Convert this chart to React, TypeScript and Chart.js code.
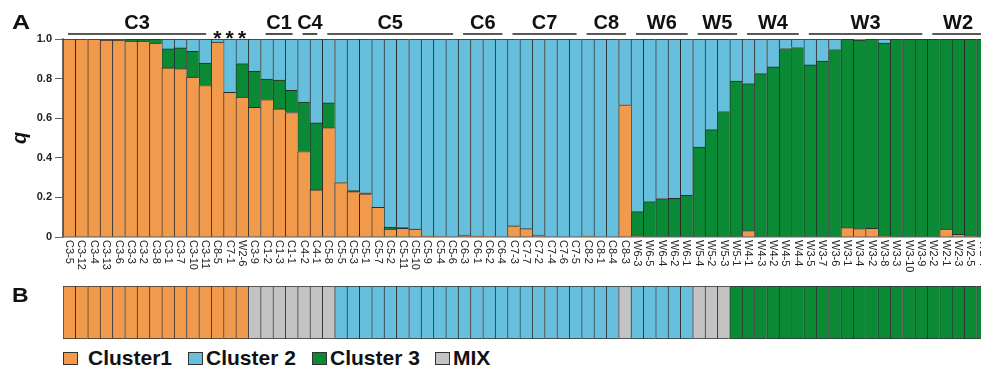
import React, { useEffect, useRef } from 'react';
import { Chart, registerables } from 'chart.js';

Chart.register(...registerables);

const FONT = '"Liberation Sans", Arial, Helvetica, sans-serif';

const sampleLabels = [
  'C3-5', 'C3-12', 'C3-4', 'C3-13', 'C3-6', 'C3-3', 'C3-2', 'C3-8', 'C3-1', 'C3-7',
  'C3-10', 'C3-11', 'C8-5', 'C7-1', 'W2-6', 'C3-9', 'C1-2', 'C1-3', 'C1-1', 'C4-2',
  'C4-1', 'C5-8', 'C5-5', 'C5-3', 'C5-1', 'C5-7', 'C5-2', 'C5-11', 'C5-10', 'C5-9',
  'C5-4', 'C5-6', 'C6-3', 'C6-1', 'C6-2', 'C6-4', 'C7-3', 'C7-7', 'C7-2', 'C7-4',
  'C7-6', 'C7-5', 'C8-2', 'C8-1', 'C8-4', 'C8-3', 'W6-3', 'W6-5', 'W6-4', 'W6-2',
  'W6-1', 'W5-4', 'W5-2', 'W5-3', 'W5-1', 'W4-1', 'W4-3', 'W4-2', 'W4-5', 'W4-4',
  'W3-5', 'W3-7', 'W3-6', 'W3-1', 'W3-4', 'W3-2', 'W3-8', 'W3-3', 'W3-10', 'W3-9',
  'W2-2', 'W2-1', 'W2-3', 'W2-5', 'W2-4',
];

// Cluster 1 (orange) membership q
const cluster1 = [
  1.0, 1.0, 1.0, 0.995, 0.995, 0.99, 0.99, 0.98, 0.854, 0.85,
  0.808, 0.765, 0.985, 0.731, 0.707, 0.655, 0.694, 0.647, 0.629, 0.432,
  0.238, 0.552, 0.275, 0.229, 0.218, 0.15, 0.04, 0.044, 0.04, 0.005,
  0.003, 0.0, 0.01, 0.005, 0.003, 0.0, 0.056, 0.042, 0.01, 0.0,
  0.0, 0.0, 0.005, 0.0, 0.0, 0.668, 0.005, 0.0, 0.0, 0.0,
  0.0, 0.0, 0.0, 0.0, 0.0, 0.032, 0.0, 0.0, 0.0, 0.0,
  0.0, 0.0, 0.0, 0.047, 0.042, 0.044, 0.005, 0.0, 0.0, 0.0,
  0.0, 0.04, 0.014, 0.005, 0.0,
];

// Cluster 3 (green) membership q
const cluster3 = [
  0.0, 0.0, 0.0, 0.005, 0.005, 0.01, 0.01, 0.02, 0.096, 0.105,
  0.13, 0.114, 0.0, 0.0, 0.169, 0.182, 0.104, 0.146, 0.112, 0.25,
  0.338, 0.125, 0.0, 0.005, 0.005, 0.0, 0.01, 0.003, 0.0, 0.0,
  0.0, 0.0, 0.0, 0.0, 0.0, 0.0, 0.0, 0.0, 0.0, 0.0,
  0.0, 0.0, 0.0, 0.0, 0.0, 0.0, 0.123, 0.179, 0.194, 0.195,
  0.211, 0.454, 0.542, 0.634, 0.787, 0.743, 0.825, 0.859, 0.952, 0.957,
  0.869, 0.889, 0.947, 0.953, 0.953, 0.956, 0.975, 1.0, 1.0, 1.0,
  1.0, 0.96, 0.986, 0.995, 1.0,
];

// Cluster 2 (blue) membership q
const cluster2 = [
  0.0, 0.0, 0.0, 0.0, 0.0, 0.0, 0.0, 0.0, 0.05, 0.045,
  0.062, 0.121, 0.015, 0.269, 0.124, 0.163, 0.202, 0.207, 0.259, 0.318,
  0.424, 0.323, 0.725, 0.766, 0.777, 0.85, 0.95, 0.953, 0.96, 0.995,
  0.997, 1.0, 0.99, 0.995, 0.997, 1.0, 0.944, 0.958, 0.99, 1.0,
  1.0, 1.0, 0.995, 1.0, 1.0, 0.332, 0.872, 0.821, 0.806, 0.805,
  0.789, 0.546, 0.458, 0.366, 0.213, 0.225, 0.175, 0.141, 0.048, 0.043,
  0.131, 0.111, 0.053, 0.0, 0.005, 0.0, 0.02, 0.0, 0.0, 0.0,
  0.0, 0.0, 0.0, 0.0, 0.0,
];

// Panel B assignment
const assignment = [
  'C1', 'C1', 'C1', 'C1', 'C1', 'C1', 'C1', 'C1', 'C1', 'C1',
  'C1', 'C1', 'C1', 'C1', 'C1', 'MIX', 'MIX', 'MIX', 'MIX', 'MIX',
  'MIX', 'MIX', 'C2', 'C2', 'C2', 'C2', 'C2', 'C2', 'C2', 'C2',
  'C2', 'C2', 'C2', 'C2', 'C2', 'C2', 'C2', 'C2', 'C2', 'C2',
  'C2', 'C2', 'C2', 'C2', 'C2', 'MIX', 'C2', 'C2', 'C2', 'C2',
  'C2', 'MIX', 'MIX', 'MIX', 'C3', 'C3', 'C3', 'C3', 'C3', 'C3',
  'C3', 'C3', 'C3', 'C3', 'C3', 'C3', 'C3', 'C3', 'C3', 'C3',
  'C3', 'C3', 'C3', 'C3', 'C3',
];

const groupNames = ['C3', 'C1', 'C4', 'C5', 'C6', 'C7', 'C8', 'W6', 'W5', 'W4', 'W3', 'W2'];
const groupStart = [0, 16, 19, 21, 32, 36, 42, 46, 51, 55, 60, 70];
const groupEnd = [11, 18, 20, 31, 35, 41, 45, 50, 54, 59, 69, 76];
const starredSamples = [12, 13, 14];

const legendNames = ['Cluster1', 'Cluster 2', 'Cluster 3', 'MIX'];
const stripHeight = 1;

const ORANGE = '#F29A4B';
const BLUE = '#66BFDC';
const GREEN = '#0B8A35';
const GREY = '#C3C3C3';
const EDGE = '#2b2b2b';
const classColor: Record<string, string> = { C1: ORANGE, C2: BLUE, C3: GREEN, MIX: GREY };
const legendColors = [ORANGE, BLUE, GREEN, GREY];

const annotatePlugin = {
  id: 'annotate',
  afterDraw(chart: any) {
    const { ctx, chartArea } = chart;
    const x = chart.scales.x;
    const n = sampleLabels.length;
    const bw = (x.right - x.left) / n;
    ctx.save();
    // rotated sample labels
    ctx.fillStyle = '#222';
    ctx.font = `11px ${FONT}`;
    ctx.textAlign = 'left';
    ctx.textBaseline = 'middle';
    sampleLabels.forEach((lab, i) => {
      const px = x.getPixelForValue(i);
      ctx.save();
      ctx.translate(px, chartArea.bottom + 3);
      ctx.rotate(Math.PI / 2);
      ctx.fillText(lab, 0, 0);
      ctx.restore();
    });
    // group labels
    ctx.strokeStyle = '#222';
    ctx.lineWidth = 1.6;
    ctx.fillStyle = '#111';
    ctx.font = `bold 20px ${FONT}`;
    ctx.textAlign = 'center';
    ctx.textBaseline = 'alphabetic';
    groupNames.forEach((g, k) => {
      const x0 = x.getPixelForValue(groupStart[k]) - bw / 2 + 5;
      const x1 = x.getPixelForValue(groupEnd[k]) + bw / 2 - 5;
      ctx.beginPath();
      ctx.moveTo(x0, 34);
      ctx.lineTo(x1, 34);
      ctx.stroke();
      const cx = Math.min((x0 + x1) / 2, k === groupNames.length - 1 ? 958 : 1e9);
      ctx.fillText(g, cx, 29);
    });
    // asterisks
    ctx.font = `bold 21px ${FONT}`;
    starredSamples.forEach((i) => {
      ctx.fillText('*', x.getPixelForValue(i), 45);
    });
    ctx.restore();
  },
};

export default function App() {
  const refA = useRef<HTMLCanvasElement>(null);
  const refB = useRef<HTMLCanvasElement>(null);

  useEffect(() => {
    const common = {
      borderColor: EDGE,
      borderWidth: { left: 1, top: 1, right: 0, bottom: 0 },
      borderSkipped: false,
      barPercentage: 1,
      categoryPercentage: 1,
    };
    const chartA = new Chart(refA.current as HTMLCanvasElement, {
      type: 'bar',
      data: {
        labels: sampleLabels,
        datasets: [
          { label: 'Cluster1', data: cluster1, backgroundColor: ORANGE, ...common } as any,
          { label: 'Cluster 3', data: cluster3, backgroundColor: GREEN, ...common } as any,
          { label: 'Cluster 2', data: cluster2, backgroundColor: BLUE, ...common } as any,
        ],
      },
      options: {
        animation: false,
        responsive: false,
        devicePixelRatio: 1,
        layout: { padding: { top: 39, left: 0, right: 0, bottom: 0 } },
        plugins: { legend: { display: false }, tooltip: { enabled: false } },
        scales: {
          x: {
            stacked: true,
            grid: { display: false },
            ticks: { display: false },
            border: { display: true, color: '#666', width: 1.5 },
            afterFit: (s: any) => { s.height = 48; },
          },
          y: {
            stacked: true,
            min: 0,
            max: 1,
            afterFit: (s: any) => { s.width = 63; },
            ticks: {
              stepSize: 0.2,
              padding: 3,
              color: '#222',
              font: { family: FONT, size: 11, weight: 'bold' },
              callback: (v: any) => (Number(v) === 0 ? '0' : Number(v).toFixed(1)),
            },
            grid: { drawOnChartArea: false, drawTicks: true, tickLength: 8, color: '#666' },
            border: { color: '#666', width: 1.5 },
            title: {
              display: true,
              text: 'q',
              color: '#111',
              padding: { top: 8, bottom: 0 },
              font: { family: FONT, size: 20, weight: 'bold', style: 'italic' },
            },
          },
        },
      } as any,
      plugins: [annotatePlugin],
    });

    const chartB = new Chart(refB.current as HTMLCanvasElement, {
      type: 'bar',
      data: {
        labels: sampleLabels,
        datasets: [
          {
            label: 'assignment',
            data: assignment.map(() => stripHeight),
            backgroundColor: assignment.map((a) => classColor[a]),
            borderColor: '#333',
            borderWidth: { left: 1, top: 1.2, right: 0, bottom: 1.2 },
            borderSkipped: false,
            barPercentage: 1,
            categoryPercentage: 1,
          } as any,
        ],
      },
      options: {
        animation: false,
        responsive: false,
        devicePixelRatio: 1,
        layout: { padding: { top: 0, left: 63, right: 0, bottom: 0 } },
        plugins: { legend: { display: false }, tooltip: { enabled: false } },
        scales: {
          x: { display: false },
          y: { display: false, min: 0, max: 1 },
        },
      } as any,
    });

    return () => {
      chartA.destroy();
      chartB.destroy();
    };
  }, []);

  const legendX = [63, 188, 312, 435];
  return (
    <div
      style={{
        position: 'fixed', left: 0, top: 0, width: 981, height: 366,
        overflow: 'hidden', background: '#fff', fontFamily: FONT,
      }}
    >
      <canvas ref={refA} width={989} height={285}
        style={{ position: 'absolute', left: 0, top: 0, width: 989, height: 285 }} />
      <canvas ref={refB} width={989} height={53}
        style={{ position: 'absolute', left: 0, top: 286, width: 989, height: 53 }} />
      <div style={{ position: 'absolute', left: 12, top: 12, fontSize: 20, lineHeight: '20px', fontWeight: 'bold', color: '#111', transform: 'scaleX(1.25)', transformOrigin: 'left top' }}>A</div>
      <div style={{ position: 'absolute', left: 12, top: 285, fontSize: 20, lineHeight: '20px', fontWeight: 'bold', color: '#111', transform: 'scaleX(1.15)', transformOrigin: 'left top' }}>B</div>
      {legendNames.map((name, i) => (
        <div key={name} style={{ position: 'absolute', left: legendX[i], top: 346, display: 'flex', alignItems: 'center', height: 22 }}>
          <div style={{ width: 13, height: 11, background: legendColors[i], border: '1.5px solid #333', marginRight: name === 'Cluster1' ? 10 : 3, marginTop: 2 }} />
          <span style={{ fontSize: 21, lineHeight: '21px', fontWeight: 'bold', color: '#111' }}>{name}</span>
        </div>
      ))}
    </div>
  );
}
